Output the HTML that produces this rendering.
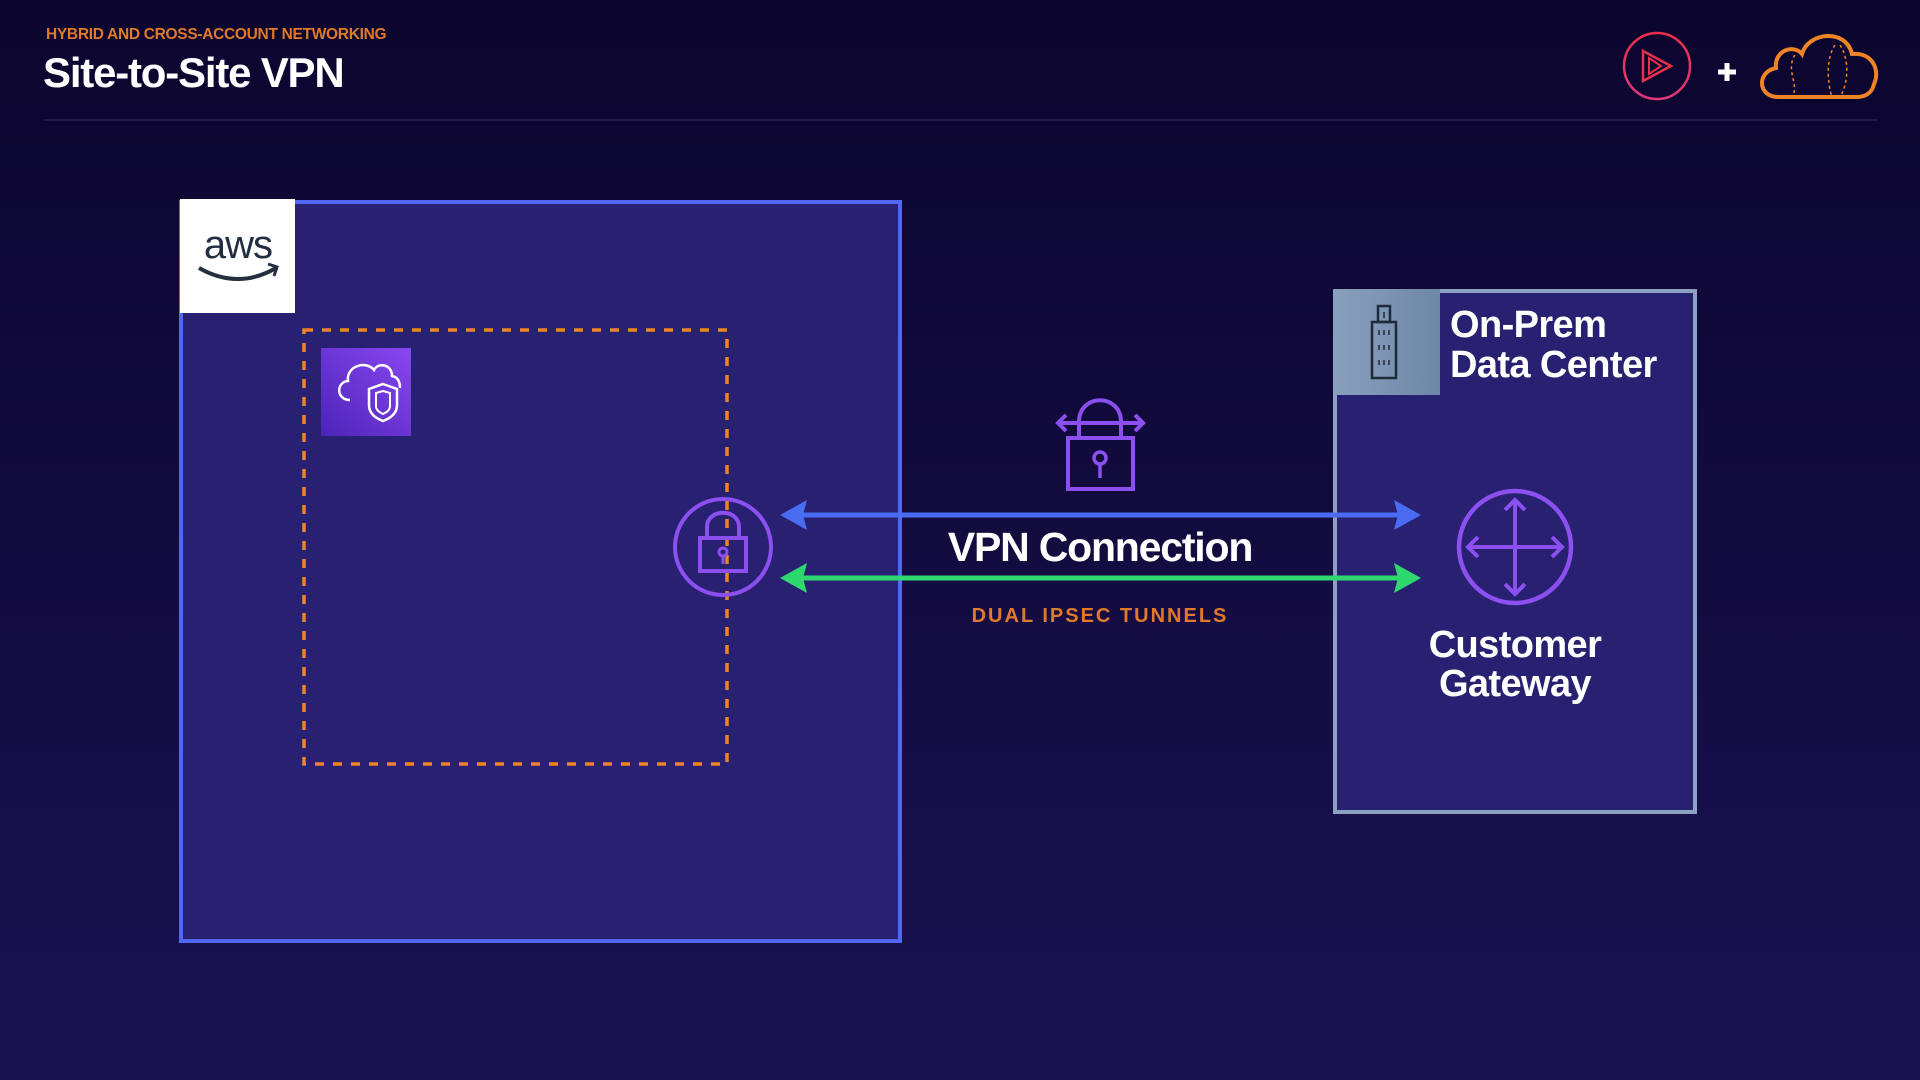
<!DOCTYPE html>
<html><head><meta charset="utf-8"><style>
html,body{margin:0;padding:0;width:1920px;height:1080px;overflow:hidden;background:#0c0630;}
svg{display:block}
text{font-family:"Liberation Sans",sans-serif;font-weight:bold}
</style></head><body>
<svg width="1920" height="1080" viewBox="0 0 1920 1080" xmlns="http://www.w3.org/2000/svg">
<defs>
<linearGradient id="bg" x1="0" y1="0" x2="0" y2="1">
<stop offset="0" stop-color="#0b052e"/><stop offset="1" stop-color="#1a1250"/>
</linearGradient>
<linearGradient id="ico" x1="0" y1="1" x2="1" y2="0">
<stop offset="0" stop-color="#4c24b8"/><stop offset="1" stop-color="#8a47f0"/>
</linearGradient>
<linearGradient id="hdr" x1="0" y1="0" x2="1" y2="0">
<stop offset="0" stop-color="#8aa0bd"/><stop offset="1" stop-color="#6e87a6"/>
</linearGradient>
<linearGradient id="pl" x1="0" y1="0" x2="0" y2="1">
<stop offset="0" stop-color="#e8304a"/><stop offset="1" stop-color="#e2357a"/>
</linearGradient>
</defs>
<rect width="1920" height="1080" fill="url(#bg)"/>
<!-- header -->
<text x="46" y="39" font-size="15.5" fill="#e0792a" letter-spacing="-0.3">HYBRID AND CROSS-ACCOUNT NETWORKING</text>
<text x="43" y="87" font-size="42" fill="#ffffff" letter-spacing="-1.2">Site-to-Site VPN</text>
<line x1="44" y1="120" x2="1877" y2="120" stroke="#231c4e" stroke-width="2"/>
<!-- top right icons -->
<circle cx="1657" cy="66" r="33" fill="none" stroke="url(#pl)" stroke-width="2.5"/>
<path d="M1643 51 L1671 66 L1643 81 Z" fill="none" stroke="#e8304a" stroke-width="2.5"/>
<path d="M1649 58 L1661 66 L1649 74 Z" fill="none" stroke="#e8304a" stroke-width="2"/>
<path d="M1727 63 v18 M1718 72 h18" stroke="#fff" stroke-width="5"/>
<path d="M1778 97 C1758 97 1756 72 1776 68 C1774 50 1794 44 1802 54 C1808 32 1846 28 1852 54 C1874 52 1880 72 1874 84 C1872 94 1864 97 1856 97 Z" fill="none" stroke="#ee8425" stroke-width="4"/>
<path d="M1795 55 C1785 70 1800 85 1792 97 M1835 45 C1825 60 1828 85 1832 97 M1840 45 C1850 60 1848 85 1840 97" fill="none" stroke="#ee8425" stroke-width="1.5" stroke-dasharray="3 3"/>
<!-- AWS box -->
<rect x="181" y="202" width="719" height="739" fill="#282070" stroke="#5068f0" stroke-width="4"/>
<rect x="180" y="199" width="115" height="114" fill="#ffffff"/>
<text x="238" y="258" font-size="40" fill="#232f3e" text-anchor="middle" style="font-weight:normal" letter-spacing="-1">aws</text>
<path d="M199 268 Q238 290 276 268" fill="none" stroke="#232f3e" stroke-width="4"/>
<path d="M268 264 L277 267 L274 276" fill="none" stroke="#232f3e" stroke-width="3"/>
<!-- dashed vpc -->
<rect x="304" y="330" width="423" height="434" fill="none" stroke="#ee8425" stroke-width="3.5" stroke-dasharray="9 9"/>
<rect x="321" y="348" width="90" height="88" fill="url(#ico)"/>
<path d="M350 400 C336 400 336 382 348 381 C346 366 366 360 374 370 C378 362 392 364 392 376 C398 377 400 382 400 388" fill="none" stroke="#fff" stroke-width="2.5"/>
<path d="M383 384 L397 389 L397 405 C397 413 391 418 383 421 C375 418 369 413 369 405 L369 389 Z" fill="none" stroke="#fff" stroke-width="2.5"/>
<path d="M383 391 L390 393 L390 406 C390 410 387 412 383 414 C379 412 376 410 376 406 L376 393 Z" fill="none" stroke="#fff" stroke-width="2"/>
<!-- middle lock -->
<path d="M1079 422 C1079 393 1121 393 1121 422" fill="none" stroke="#8c4ff0" stroke-width="4"/>
<path d="M1058 423 H1143 M1066 415 L1058 423 L1066 431 M1135 415 L1143 423 L1135 431" fill="none" stroke="#8c4ff0" stroke-width="4"/>
<path d="M1079 423 v15 M1121 423 v15" stroke="#8c4ff0" stroke-width="4"/>
<rect x="1068" y="438" width="65" height="51" fill="none" stroke="#8c4ff0" stroke-width="4"/>
<circle cx="1100" cy="458" r="6" fill="none" stroke="#8c4ff0" stroke-width="3.5"/>
<path d="M1100 464 v14" stroke="#8c4ff0" stroke-width="3.5"/>
<!-- on-prem box -->
<rect x="1335" y="291" width="360" height="521" fill="#282070" stroke="#8da0c2" stroke-width="4"/>
<rect x="1333" y="289" width="107" height="106" fill="url(#hdr)"/>
<rect x="1372" y="322" width="24" height="56" fill="none" stroke="#1e2a3a" stroke-width="2.5"/>
<rect x="1378" y="306" width="12" height="16" fill="none" stroke="#1e2a3a" stroke-width="2.5"/>
<path d="M1379 330 v5 M1384 312 v6 M1384 330 v5 M1389 330 v5 M1379 345 v5 M1384 345 v5 M1389 345 v5 M1379 360 v5 M1384 360 v5 M1389 360 v5" stroke="#1e2a3a" stroke-width="1.5"/>
<text x="1450" y="337" font-size="38" fill="#fff" letter-spacing="-0.6">On-Prem</text>
<text x="1450" y="377" font-size="38" fill="#fff" letter-spacing="-0.6">Data Center</text>
<!-- customer gateway -->
<circle cx="1515" cy="547" r="56" fill="none" stroke="#8c4ff0" stroke-width="4.5"/>
<path d="M1515 500 V594 M1468 547 H1562 M1505 510 L1515 500 L1525 510 M1505 584 L1515 594 L1525 584 M1478 537 L1468 547 L1478 557 M1552 537 L1562 547 L1552 557" fill="none" stroke="#8c4ff0" stroke-width="4"/>
<text x="1515" y="657" font-size="38" fill="#fff" text-anchor="middle" letter-spacing="-0.6">Customer</text>
<text x="1515" y="696" font-size="38" fill="#fff" text-anchor="middle" letter-spacing="-0.6">Gateway</text>
<!-- vpn gateway lock -->
<circle cx="723" cy="547" r="48" fill="none" stroke="#8c4ff0" stroke-width="4"/>
<path d="M707 537 V527 C707 508 739 508 739 527 V537" fill="none" stroke="#8c4ff0" stroke-width="4"/>
<rect x="700" y="538" width="46" height="33" fill="none" stroke="#8c4ff0" stroke-width="4"/>
<circle cx="723" cy="552" r="4" fill="none" stroke="#8c4ff0" stroke-width="3"/>
<path d="M723 556 v8" stroke="#8c4ff0" stroke-width="3"/>
<!-- arrows -->
<line x1="800" y1="515" x2="1400" y2="515" stroke="#4a6cf2" stroke-width="5"/>
<path d="M780 515 L807 500 L803 515 L807 530 Z" fill="#4a6cf2"/>
<path d="M1421 515 L1394 500 L1398 515 L1394 530 Z" fill="#4a6cf2"/>
<line x1="800" y1="578" x2="1400" y2="578" stroke="#2fd86f" stroke-width="5"/>
<path d="M780 578 L807 563 L803 578 L807 593 Z" fill="#2fd86f"/>
<path d="M1421 578 L1394 563 L1398 578 L1394 593 Z" fill="#2fd86f"/>
<text x="1100" y="561" font-size="41" fill="#fff" text-anchor="middle" letter-spacing="-1.2">VPN Connection</text>
<text x="1100" y="622" font-size="20" fill="#e0792a" text-anchor="middle" letter-spacing="2">DUAL IPSEC TUNNELS</text>
</svg>
</body></html>
